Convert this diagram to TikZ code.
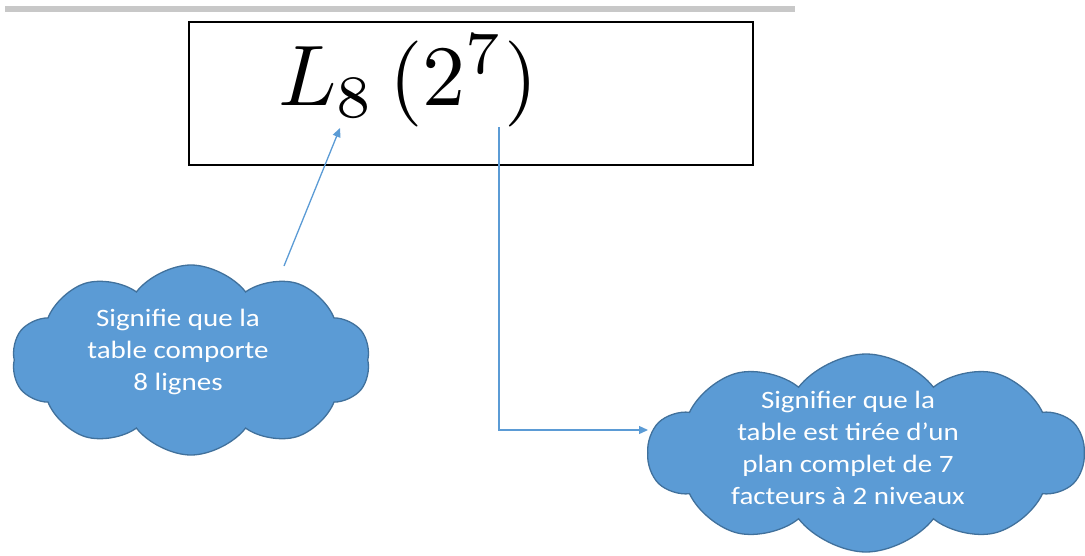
\documentclass[tikz,border=0pt]{standalone}
\usepackage{fontspec}
\newfontfamily\calib{Carlito}
\usetikzlibrary{shapes.symbols,arrows.meta}
\definecolor{cloudfill}{HTML}{5B9BD5}
\definecolor{clouddraw}{HTML}{41719C}
\definecolor{arrowblue}{HTML}{5B9BD5}
\definecolor{bargray}{HTML}{C8C8C8}
\tikzset{
  puff/.style={cloud, cloud puffs=10, cloud puff arc=105, cloud ignores aspect, fill=cloudfill,
    draw=clouddraw, line width=1.3pt},
  cloudtext/.style={align=center, text=white, font=\calib\fontsize{25}{32}\selectfont, xscale=1.16},
  link/.style={draw=arrowblue, line width=1.3pt, -{Triangle[width=8pt,length=9pt]}},
  titlebox/.style={draw=black, line width=1.8pt}
}
\begin{document}
\begin{tikzpicture}[x=1pt,y=-1pt]
\useasboundingbox (0,0) rectangle (1085,555);
% top rule
\fill[bargray] (5,6) rectangle (795,12);
% title frame
\node[titlebox, minimum width=564pt, minimum height=143pt, anchor=north west] (box) at (188,21) {};
\node[anchor=base, scale=8.6] (title) at (408,105) {$L_8\,(2^7)$};
% clouds
\node[puff, minimum width=358pt, minimum height=190pt] (c1) at (191,360) {};
\node[cloudtext] (t1) at (178,352) {Signifie que la\\table comporte\\8 lignes};
\node[puff, minimum width=436pt, minimum height=198pt] (c2) at (866,453) {};
\node[cloudtext] (t2) at (848,448) {Signifier que la\\table est tirée d’un\\plan complet de 7\\facteurs à 2 niveaux};
% connectors
\coordinate (s1) at (284,266);
\coordinate (e1) at (340,128);
\coordinate (s2) at (499,127);
\coordinate (e2) at (648,430);
\draw[link] (s1) -- (e1);
\draw[link] (s2) |- (e2);
\end{tikzpicture}
\end{document}
